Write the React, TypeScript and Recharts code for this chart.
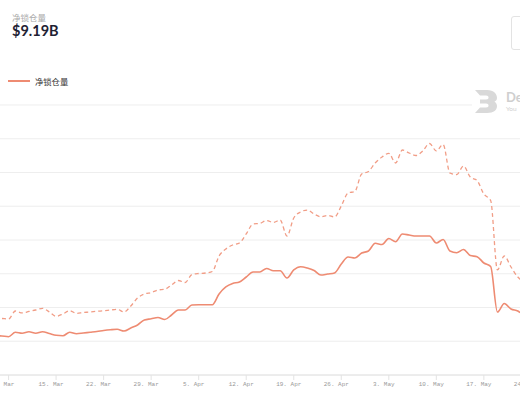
import React from 'react';
import { LineChart, Line, XAxis, YAxis, CartesianGrid } from 'recharts';

// Daily values (billion USD), starting 6 Mar 2021
const START_DATE = '2021-03-06';
const NET_TVL = [
  5.82, 5.78, 5.67, 6.33, 6.18, 6.41, 6.18, 6.41, 6.15, 5.88,
  5.82, 6.33, 6.12, 6.22, 6.33, 6.44, 6.59, 6.7, 6.77, 6.52,
  6.96, 7.41, 8.15, 8.33, 8.52, 8.22, 8.89, 9.63, 9.63, 10.37,
  10.41, 10.41, 10.41, 12.0, 13.04, 13.56, 13.78, 14.52, 15.26, 15.26,
  15.78, 15.45, 15.45, 14.37, 15.56, 16.04, 15.85, 15.48, 14.81, 14.96,
  15.11, 16.44, 17.48, 17.33, 18.07, 18.37, 19.51, 19.33, 20.22, 19.75,
  20.89, 20.74, 20.59, 20.59, 20.59, 19.56, 20.07, 18.37, 18.12, 18.59,
  17.7, 17.53, 16.59, 16.07, 9.33, 10.59, 9.78, 9.48, 8.74,
];
const GROSS_TVL = [
  8.4, 8.37, 8.3, 9.48, 9.19, 9.41, 9.63, 9.88, 9.33, 8.7,
  9.04, 9.53, 9.14, 9.26, 9.33, 9.44, 9.51, 9.63, 9.73, 9.33,
  10.22, 11.41, 12.0, 12.22, 12.59, 12.7, 13.33, 14.0, 13.7, 14.89,
  15.04, 15.11, 15.33, 17.63, 18.67, 19.26, 19.56, 20.89, 22.37, 22.47,
  22.89, 22.59, 22.96, 20.59, 23.26, 24.15, 24.44, 23.85, 23.45, 23.63,
  23.41, 25.04, 26.96, 27.19, 29.78, 30.15, 31.41, 32.3, 32.84, 31.41,
  33.33, 32.89, 32.52, 33.19, 34.3, 33.19, 34.15, 29.93, 29.7, 30.96,
  29.33, 28.81, 26.81, 25.85, 15.56, 17.63, 16.0, 14.52, 13.78,
];
const TICK_DATES = [
  '2021-03-08', '2021-03-15', '2021-03-22', '2021-03-29', '2021-04-05', '2021-04-12',
  '2021-04-19', '2021-04-26', '2021-05-03', '2021-05-10', '2021-05-17', '2021-05-24',
];
const MONTHS = ['Jan', 'Feb', 'Mar', 'Apr', 'May', 'Jun', 'Jul', 'Aug', 'Sep', 'Oct', 'Nov', 'Dec'];
const Y_TICKS = [0, 5, 10, 15, 20, 25, 30, 35, 40];

const DAY = 86400000;
const start = Date.parse(START_DATE);
const data = NET_TVL.map((v, i) => ({ t: start + i * DAY, net: v, gross: GROSS_TVL[i] }));
const ticks = TICK_DATES.map(d => Date.parse(d));

const LINE_COLOR = '#ee8b72';

const fmtDate = (t: number) => {
  const d = new Date(t);
  return `${d.getUTCDate()}. ${MONTHS[d.getUTCMonth()]}`;
};

const DateTick = (props: any) => {
  const { x, y, payload } = props;
  return (
    <text x={x - 5} y={y} dy="0.71em" textAnchor="middle" fontFamily="'Liberation Mono', monospace" fontSize={6} fill="#999">
      {fmtDate(payload.value)}
    </text>
  );
};

const App: React.FC = () => {
  return (
    <div style={{ position: 'fixed', left: 0, top: 0, width: 520, height: 400, overflow: 'hidden', background: '#fff', fontFamily: 'Lato, sans-serif' }}>
      {/* header */}
      <div style={{ position: 'absolute', left: 12, top: 11, fontSize: 8.5, color: '#aaa', fontFamily: "'Noto Sans CJK SC', sans-serif", lineHeight: '12px' }}>净锁仓量</div>
      <div style={{ position: 'absolute', left: 12, top: 22, fontSize: 14.5, fontWeight: 700, color: '#1f2233', lineHeight: '18px' }}>$9.19B</div>
      <div style={{ position: 'absolute', left: 511, top: 16, width: 30, height: 32, border: '1px solid #e3e3e3', borderRadius: 3 }} />

      {/* legend */}
      <div style={{ position: 'absolute', left: 8, top: 80, width: 22, height: 1.5, background: LINE_COLOR }} />
      <div style={{ position: 'absolute', left: 35, top: 75, fontSize: 8.3, color: '#333', fontFamily: "'Noto Sans CJK SC', sans-serif", lineHeight: '12px' }}>净锁仓量</div>

      <div style={{ position: 'absolute', left: -5.28, top: 0 }}>
        <LineChart width={536.4} height={400} data={data} margin={{ top: 105, right: 0, bottom: 0, left: 0 }}>
          <CartesianGrid vertical={false} stroke="#eeeeee" />
          <XAxis
            dataKey="t"
            type="number"
            scale="time"
            domain={[start - 0, Date.parse('2021-05-24')]}
            ticks={ticks}
            tick={<DateTick />}
            height={25}
            tickSize={5}
            tickLine={{ stroke: '#e3e3e3' }}
            axisLine={{ stroke: '#e3e3e3' }}
            interval={0}
            allowDataOverflow
          />
          <YAxis hide domain={[0, 40]} ticks={Y_TICKS} />
          <Line type="monotone" dataKey="gross" stroke="#f19d86" strokeWidth={1.3} strokeDasharray="4 3" dot={false} isAnimationActive={false} />
          <Line type="monotone" dataKey="net" stroke={LINE_COLOR} strokeWidth={1.6} dot={false} isAnimationActive={false} />
        </LineChart>
      </div>

      {/* watermark */}
      <div style={{ position: 'absolute', left: 472, top: 88, width: 60, height: 27, background: '#fff' }}>
        <svg width={24} height={25} style={{ position: 'absolute', left: 2, top: 1 }}>
          <path d="M1 1 H13 C20 1 23 5 23 9 C23 11 22 12 20.5 12.5 C22 13.5 23 15.5 23 17 C23 21 20 24 13 24 H1 L6 18.5 H12 C14 18.5 14.5 17.5 14.5 16.5 C14.5 15.5 14 14.5 12 14.5 H6 V10.5 H12 C14 10.5 14.5 9.5 14.5 8.5 C14.5 7.5 14 6.5 12 6.5 H6 Z" fill="#d9d9d9" />
        </svg>
        <div style={{ position: 'absolute', left: 34, top: 2, fontSize: 13, fontWeight: 700, color: '#cfcfcf', lineHeight: '14px' }}>De</div>
        <div style={{ position: 'absolute', left: 34, top: 17, fontSize: 6.5, color: '#cfcfcf', lineHeight: '8px' }}>You</div>
      </div>
    </div>
  );
};

export default App;
